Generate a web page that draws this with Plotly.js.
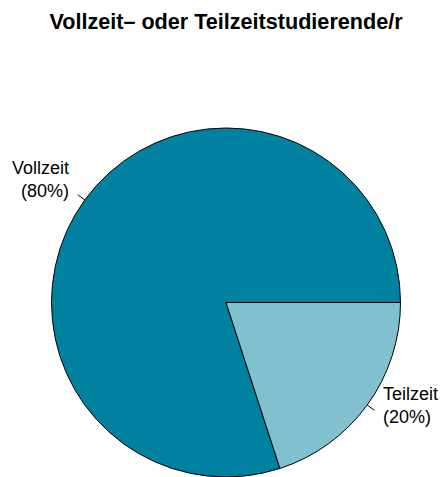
<!DOCTYPE html>
<html>
<head>
<meta charset="utf-8">
<script src="https://cdn.plot.ly/plotly-3.0.1.min.js"></script>
<style>html,body{margin:0;padding:0;background:#fff;}#chart{width:441px;height:477px;}</style>
</head>
<body>
<div id="chart"></div>
<script>
const categories = ["Vollzeit", "Teilzeit"];
const values = [80, 20];
const colors = ["#00819F", "#81C1CF"];
const chartTitle = "Vollzeit\u2013 oder Teilzeitstudierende/r";

const W = 441, H = 477;
const cx = 226, cyTop = 302.5, R = 174.5;
const total = values.reduce((a, b) => a + b, 0);

const shapes = [];
const annotations = [];
let start = 0; // degrees, counterclockwise from 3 o'clock
values.forEach((v, i) => {
  const span = v / total * 360;
  const mid = (start + span / 2) * Math.PI / 180;
  start += span;
  const px = f => cx + f * R * Math.cos(mid);
  const py = f => cyTop - f * R * Math.sin(mid);
  shapes.push({
    type: "line", xref: "paper", yref: "paper",
    x0: px(1.0) / W, y0: 1 - py(1.0) / H,
    x1: px(1.05) / W, y1: 1 - py(1.05) / H,
    line: { color: "#000", width: 1 }
  });
  const pct = Math.round(v / total * 100);
  const left = Math.cos(mid) < 0;
  annotations.push({
    xref: "paper", yref: "paper",
    x: px(1.1) / W, y: 1 - py(1.1) / H,
    xanchor: left ? "right" : "left", yanchor: "middle",
    align: left ? "right" : "left",
    yshift: 10,
    showarrow: false,
    text: categories[i] + "<br>(" + pct + "%)",
    font: { family: "Liberation Sans, Arial, sans-serif", size: 18, color: "#000" }
  });
});

// Plotly angles are clockwise from 12 o'clock; the first slice occupies
// [rotation, rotation + its share]. We want it to end at 3 o'clock (90°).
let rot = 90 - 360 * values[0] / total;
while (rot < -180) rot += 360;

const trace = {
  type: "pie",
  labels: categories,
  values: values,
  sort: false,
  direction: "counterclockwise",
  rotation: rot,
  textinfo: "none",
  hoverinfo: "none",
  marker: { colors: colors, line: { color: "#000", width: 1 } },
  domain: { x: [(cx - R) / W, (cx + R) / W], y: [1 - (cyTop + R) / H, 1 - (cyTop - R) / H] },
  showlegend: false
};

const layout = {
  width: W, height: H,
  margin: { l: 0, r: 0, t: 0, b: 0 },
  paper_bgcolor: "#fff",
  plot_bgcolor: "#fff",
  title: {
    text: "<b>" + chartTitle + "</b>",
    font: { family: "Liberation Sans, Arial, sans-serif", size: 21.6, color: "#000" },
    x: cx / W, xanchor: "center", xref: "paper",
    y: 1 - 21 / H, yanchor: "middle", yref: "container"
  },
  shapes: shapes,
  annotations: annotations,
  showlegend: false
};

Plotly.newPlot("chart", [trace], layout, { staticPlot: true, displayModeBar: false });
</script>
</body>
</html>
